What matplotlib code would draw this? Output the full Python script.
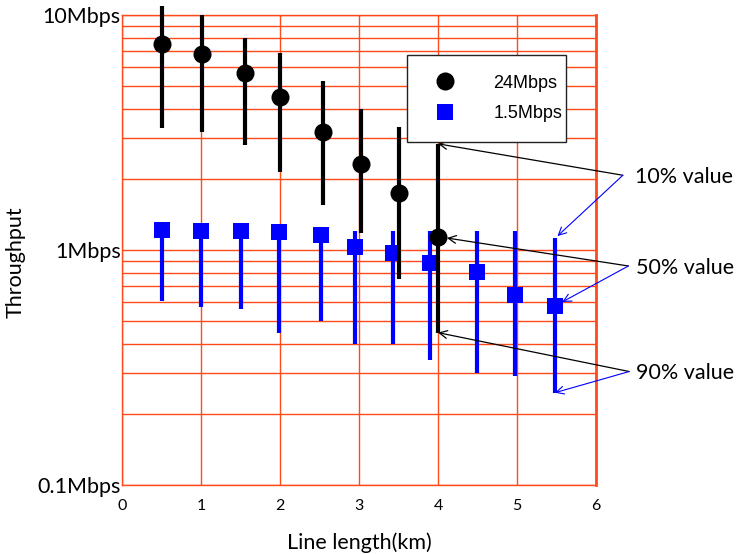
import matplotlib
matplotlib.use('Agg')
import matplotlib.pyplot as plt
from matplotlib.lines import Line2D
from matplotlib.ticker import LogLocator, NullFormatter

# ---- data ----
black_x = [0.51, 1.01, 1.56, 2.0, 2.55, 3.03, 3.5, 4.0]
black_p50 = [7.50, 6.81, 5.65, 4.49, 3.19, 2.32, 1.75, 1.14]
black_p10 = [10.95, 9.97, 7.96, 6.91, 5.24, 3.97, 3.35, 2.83]
black_p90 = [3.31, 3.19, 2.80, 2.14, 1.55, 1.18, 0.75, 0.445]

blue_x = [0.5, 1.0, 1.5, 1.99, 2.52, 2.95, 3.43, 3.9, 4.49, 4.98, 5.48]
blue_p50 = [1.22, 1.21, 1.20, 1.19, 1.16, 1.03, 0.974, 0.883, 0.806, 0.644, 0.578]
blue_p10 = [1.22, 1.21, 1.20, 1.19, 1.16, 1.21, 1.21, 1.21, 1.21, 1.20, 1.12]
blue_p90 = [0.607, 0.574, 0.561, 0.442, 0.499, 0.397, 0.397, 0.340, 0.30, 0.291, 0.247]

series_labels = ['24Mbps', '1.5Mbps']
x_ticks = [0, 1, 2, 3, 4, 5, 6]
y_ticks = [0.1, 1, 10]
y_ticklabels = ['0.1Mbps', '1Mbps', '10Mbps']
note_labels = ['10% value', '50% value', '90% value']
note_text_x = [6.49, 6.51, 6.51]
note_text_y = [2.05, 0.836, 0.299]
note_tail_x = [6.34, 6.41, 6.42]
note_tail_y = [2.08, 0.855, 0.304]

GRID = '#FF4A1A'
BLUE = '#0000FF'
FONT = 'Lato'
LEGFONT = 'Liberation Sans'

fig = plt.figure(figsize=(7.38, 5.54), dpi=100)
ax = fig.add_axes([122/738, 1-485/554, 474/738, 470/554])
ax.set_yscale('log')
ax.set_xlim(0, 6)
ax.set_ylim(0.1, 10)

# grid
ax.set_xticks(x_ticks)
ax.set_yticks(y_ticks)
ax.yaxis.set_minor_locator(LogLocator(base=10, subs=range(2, 10)))
ax.yaxis.set_minor_formatter(NullFormatter())
ax.grid(True, which='major', axis='both', color=GRID, lw=1.0)
ax.grid(True, which='minor', axis='y', color=GRID, lw=1.0)
ax.set_axisbelow(True)
for s in ax.spines.values():
    s.set_color(GRID)
    s.set_linewidth(1.0)
ax.spines['right'].set_linewidth(2.0)

ax.tick_params(which='both', length=0)
ax.tick_params(axis='x', pad=10, labelsize=11.5)
ax.tick_params(axis='y', pad=1, labelsize=15.5)
ax.set_yticklabels(y_ticklabels, fontfamily=FONT)
ax.set_xticklabels([str(t) for t in x_ticks], fontfamily=FONT)

ax.set_xlabel('Line length(km)', fontfamily=FONT, fontsize=15.5, labelpad=14)
ax.set_ylabel('Throughput', fontfamily=FONT, fontsize=15.5)
ax.yaxis.set_label_coords(-0.2236, 0.474)
ax.yaxis.label.set_va('center')

# blue series (drawn first)
ax.vlines(blue_x, blue_p90, blue_p10, color=BLUE, lw=3, zorder=3, clip_on=False)
ax.plot(blue_x, blue_p50, ls='none', marker='s', ms=11.8, mew=0, color=BLUE,
        zorder=4, clip_on=False)
# black series
ax.vlines(black_x, black_p90, black_p10, color='black', lw=3, zorder=5, clip_on=False)
ax.plot(black_x, black_p50, ls='none', marker='o', ms=13, mew=0, color='black',
        zorder=6, clip_on=False)

# legend
handles = [Line2D([], [], ls='none', marker='o', ms=13, mew=0, color='black'),
           Line2D([], [], ls='none', marker='s', ms=11.5, mew=0, color=BLUE)]
leg = ax.legend(handles, series_labels, loc='upper left',
                bbox_to_anchor=(0.601, 0.738, 0.336, 0.177), mode='expand',
                prop={'family': LEGFONT, 'size': 13}, fancybox=False,
                framealpha=1, edgecolor='#222222', borderpad=1.1,
                labelspacing=0.75, handlelength=2.0, handletextpad=1.7,
                borderaxespad=0)
leg.get_frame().set_linewidth(1.0)
leg.set_zorder(10)

# annotations
for lab, tx, ty in zip(note_labels, note_text_x, note_text_y):
    ax.text(tx, ty, lab, fontfamily=FONT, fontsize=15.5, ha='left', va='center',
            clip_on=False)

targets_black = [(black_x[-1], black_p10[-1], 0),
                 (black_x[-1], black_p50[-1], 6.5),
                 (black_x[-1], black_p90[-1], 0)]
targets_blue = [(blue_x[-1], blue_p10[-1], 2.5),
                (blue_x[-1], blue_p50[-1], 6),
                (blue_x[-1], blue_p90[-1], 0)]
for i in range(3):
    for (px, py, shr), col, lw in ((targets_black[i], 'black', 0.9),
                                   (targets_blue[i], BLUE, 0.8)):
        ax.annotate('', xy=(px, py), xytext=(note_tail_x[i], note_tail_y[i]),
                    xycoords='data', textcoords='data', annotation_clip=False,
                    arrowprops=dict(arrowstyle='->', color=col, lw=lw,
                                    shrinkA=0, shrinkB=shr, mutation_scale=14),
                    zorder=8)

fig.savefig('out.png', dpi=100)
